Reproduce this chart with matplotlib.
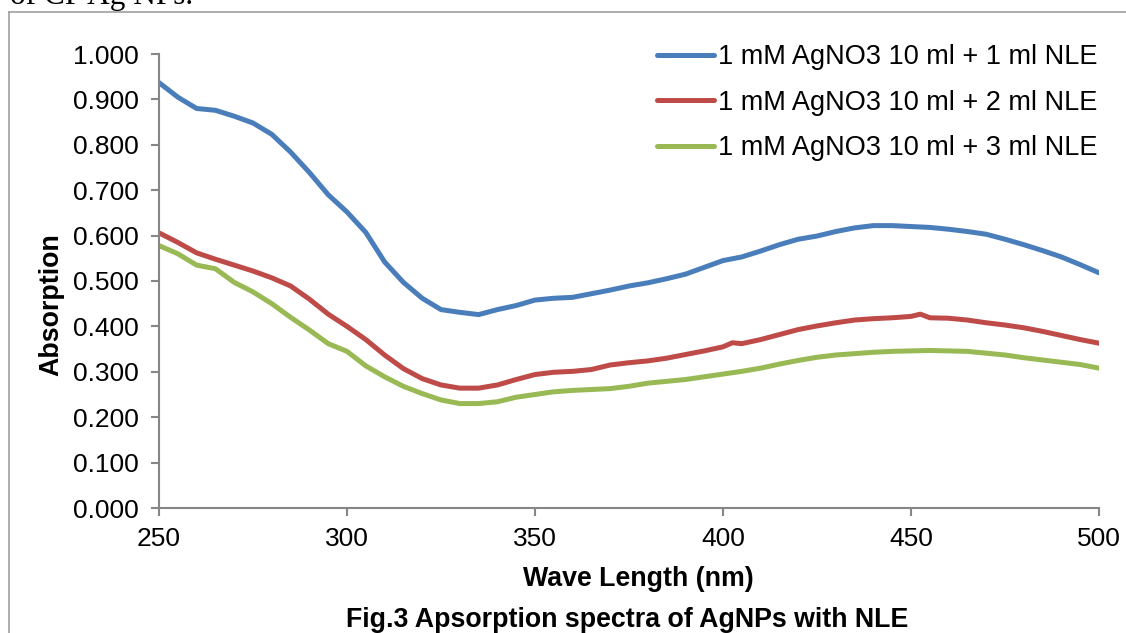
import matplotlib
matplotlib.use("Agg")
import matplotlib.pyplot as plt
from matplotlib.lines import Line2D

plt.rcParams['font.family'] = ['Liberation Sans', 'DejaVu Sans']

# Wavelength grid (nm) and absorbance for each extract volume
wl = [250, 255, 260, 265, 270, 275, 280, 285, 290, 295,
      300, 305, 310, 315, 320, 325, 330, 335, 340, 345,
      350, 355, 360, 365, 370, 375, 380, 385, 390, 395,
      400, 405, 410, 415, 420, 425, 430, 435, 440, 445,
      450, 455, 460, 465, 470, 475, 480, 485, 490, 495, 500]

abs_1ml = [0.937, 0.905, 0.880, 0.876, 0.863, 0.848, 0.823, 0.784, 0.739, 0.690,
           0.652, 0.607, 0.542, 0.497, 0.462, 0.437, 0.431, 0.426, 0.437, 0.446,
           0.458, 0.462, 0.464, 0.472, 0.480, 0.489, 0.496, 0.505, 0.515, 0.530,
           0.545, 0.553, 0.566, 0.580, 0.592, 0.599, 0.609, 0.617, 0.622, 0.622,
           0.620, 0.618, 0.614, 0.609, 0.603, 0.592, 0.580, 0.567, 0.553, 0.536, 0.518]

wl_2ml = [250, 255, 260, 265, 270, 275, 280, 285, 290, 295,
          300, 305, 310, 315, 320, 325, 330, 335, 340, 345,
          350, 355, 360, 365, 370, 375, 380, 385, 390, 395,
          400, 402.5, 405, 410, 415, 420, 425, 430, 435, 440, 445,
          450, 452.5, 455, 460, 465, 470, 475, 480, 485, 490, 495, 500]

abs_2ml = [0.606, 0.585, 0.562, 0.548, 0.535, 0.522, 0.507, 0.489, 0.460, 0.427,
           0.400, 0.371, 0.337, 0.307, 0.285, 0.271, 0.264, 0.264, 0.271, 0.283,
           0.294, 0.299, 0.301, 0.305, 0.315, 0.320, 0.324, 0.330, 0.338, 0.346,
           0.355, 0.364, 0.362, 0.371, 0.382, 0.393, 0.401, 0.408, 0.414, 0.417, 0.419,
           0.422, 0.427, 0.419, 0.418, 0.414, 0.408, 0.403, 0.397, 0.389, 0.380, 0.371, 0.363]

abs_3ml = [0.578, 0.560, 0.535, 0.527, 0.497, 0.476, 0.450, 0.420, 0.392, 0.362,
           0.345, 0.313, 0.289, 0.268, 0.252, 0.238, 0.230, 0.230, 0.234, 0.244,
           0.250, 0.256, 0.259, 0.261, 0.263, 0.268, 0.275, 0.279, 0.283, 0.289,
           0.295, 0.301, 0.308, 0.317, 0.325, 0.332, 0.337, 0.340, 0.343, 0.345,
           0.346, 0.347, 0.346, 0.345, 0.341, 0.337, 0.331, 0.326, 0.321, 0.316, 0.308]

labels = ["1 mM AgNO3 10 ml + 1 ml NLE",
          "1 mM AgNO3 10 ml + 2 ml NLE",
          "1 mM AgNO3 10 ml + 3 ml NLE"]
colors = ["#4A7EBB", "#BE4B48", "#98B954"]

x_ticks = [250, 300, 350, 400, 450, 500]
y_ticks = [0.0, 0.1, 0.2, 0.3, 0.4, 0.5, 0.6, 0.7, 0.8, 0.9, 1.0]

W, H = 1126, 633
fig = plt.figure(figsize=(W / 100, H / 100), dpi=100)
ax = fig.add_axes([159 / W, 1 - 508 / H, (1099 - 159) / W, (508 - 54) / H])

series = [(wl, abs_1ml), (wl_2ml, abs_2ml), (wl, abs_3ml)]
for (x, y), c, lab in zip(series, colors, labels):
    ax.plot(x, y, color=c, lw=3.6, label=lab,
            solid_capstyle='round', solid_joinstyle='round')

ax.set_xlim(250, 500)
ax.set_ylim(0, 1.0)
ax.set_xticks(x_ticks)
ax.set_yticks(y_ticks)
ax.set_yticklabels([f"{v:.3f}" for v in y_ticks])

axis_gray = "#868686"
for side in ("top", "right"):
    ax.spines[side].set_visible(False)
for side in ("left", "bottom"):
    ax.spines[side].set_color(axis_gray)
    ax.spines[side].set_linewidth(1.5)
ax.tick_params(axis='both', direction='out', length=5.5, width=1.5,
               color=axis_gray, labelsize=19, labelcolor='black')
ax.tick_params(axis='y', pad=9)
ax.tick_params(axis='x', pad=8)

fig.text(51 / W, 1 - 305 / H, "Absorption", rotation=90, ha='center', va='center',
         fontsize=19.3, fontweight='bold')
fig.text(638 / W, 1 - 579 / H, "Wave Length (nm)", ha='center', va='center',
         fontsize=19.3, fontweight='bold')
fig.text(627 / W, 1 - 620 / H, "Fig.3 Apsorption spectra of AgNPs with NLE",
         ha='center', va='center', fontsize=19.3, fontweight='bold')

# Tail of the preceding paragraph line
fig.text(10 / W, 1 - 4 / H, "of CP Ag NPs.", ha='left', va='baseline',
         fontsize=22.5, family=['Liberation Serif'])

# Page frame around the figure
fig.add_artist(Line2D([9 / W, 1.0], [1 - 12 / H, 1 - 12 / H], color="#a0a0a0", lw=1.2))
fig.add_artist(Line2D([9 / W, 9 / W], [0, 1 - 12 / H], color="#a0a0a0", lw=1.2))

leg = ax.legend(loc='upper right', bbox_to_anchor=(1097 / W, 1 - 44 / H),
                bbox_transform=fig.transFigure, frameon=False, fontsize=19.5,
                handlelength=2.1, handletextpad=0.12, labelspacing=0.72,
                borderpad=0, borderaxespad=0)

fig.savefig("out.png", dpi=100, facecolor='white')
